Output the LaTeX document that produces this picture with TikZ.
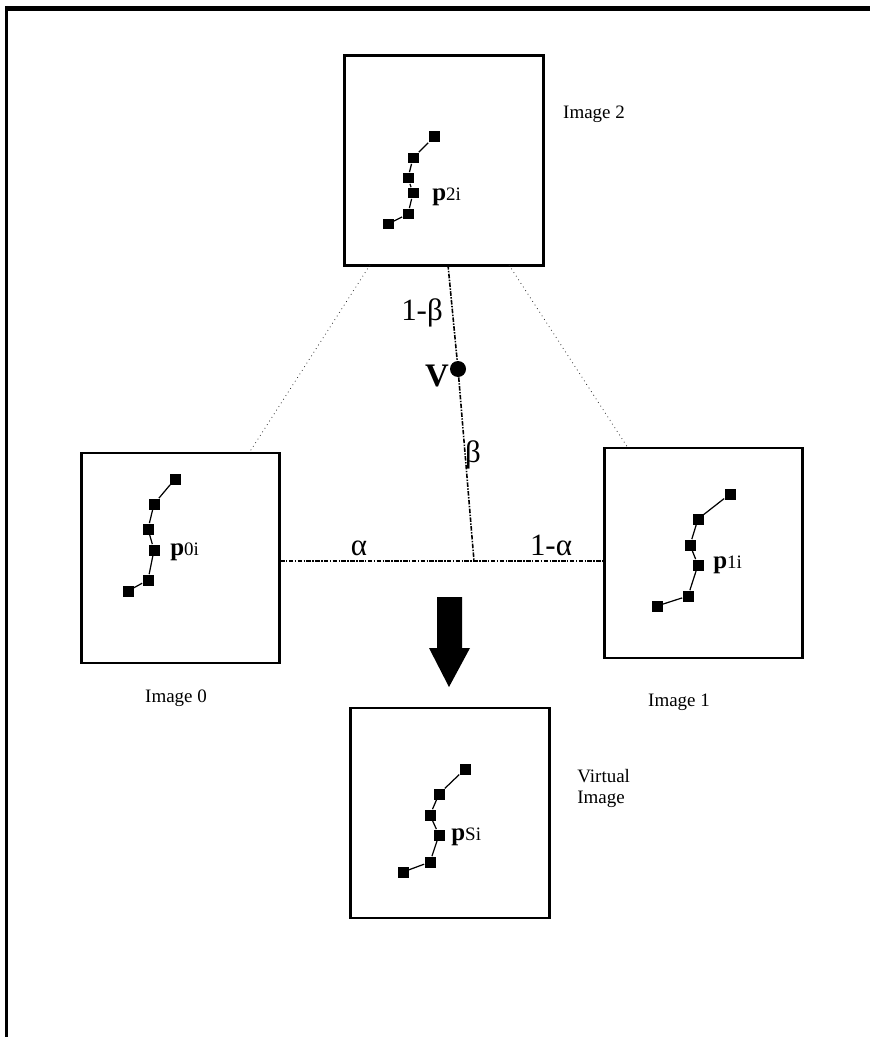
\documentclass[tikz,border=0pt]{standalone}
\usepackage{fontspec}
\setmainfont{Liberation Serif}
\begin{document}
\begin{tikzpicture}[x=0.02cm,y=-0.02cm,
  imgbox/.style={draw,line width=1.5pt,minimum width=3.97cm,minimum height=4.2cm,inner sep=0pt},
  caption/.style={font=\fontsize{10.8}{12.4}\selectfont,inner sep=0pt},
  greek/.style={font=\fontsize{17.6}{20}\selectfont,inner sep=0pt},
  plabel/.style={inner sep=0pt},
  thindots/.style={line width=0.45pt,dotted,black!85},
  dashdot/.style={line width=0.9pt,dash pattern=on 2.6pt off 0.8pt on 0.8pt off 0.8pt},
  curve/.style={line width=0.7pt},
  sq/.style={rectangle,fill=black,minimum size=0.22cm,inner sep=0pt},
  vdot/.style={circle,fill=black,minimum size=0.32cm,inner sep=0pt}
]
\useasboundingbox (0,0) rectangle (870,1037);
% frame
\draw[line width=2.8pt] (5,8.5) -- (870,8.5);
\draw[line width=1.7pt] (6.5,6) -- (6.5,1037);

% image boxes
\node[imgbox] (b2) at (444,160.5) {};
\node[imgbox] (b0) at (180.5,558) {};
\node[imgbox] (b1) at (703.5,553) {};
\node[imgbox] (bS) at (450,813) {};

% connector end points
\coordinate (l2) at (370,265);
\coordinate (l0) at (249,453);
\coordinate (r2) at (509,265);
\coordinate (r1) at (628,448);
\coordinate (c2) at (448,265);
\coordinate (cm) at (474,561);
\coordinate (h0) at (280,561);
\coordinate (h1) at (604,561);
\node[vdot] (v) at (458,369) {};

\draw[thindots] (l2) -- (l0);
\draw[thindots] (r2) -- (r1);
\draw[dashdot] (c2) -- (v);
\draw[dashdot] (v) -- (cm);
\draw[dashdot] (h0) -- (h1);

% labels on connectors
\node[greek,anchor=base] (lb1) at (422,320) {1-β};
\node[greek,anchor=base] (lb) at (473,462) {β};
\node[greek,anchor=base] (la) at (359,555) {α};
\node[greek,anchor=base] (la1) at (551,555) {1-α};
\node[inner sep=0pt,anchor=base,font=\fontsize{18.7}{20}\selectfont\bfseries] (vl) at (437,386) {V};

% polylines of feature points
\foreach \p [count=\i] in {(434,137),(413,158),(408,178),(413,193),(408,214),(388,224)}
  \node[sq] (q2\i) at \p {};
\draw[curve] (q21) -- (q22) -- (q23) -- (q24) -- (q25) -- (q26);
\foreach \p [count=\i] in {(175,479),(154,504),(148,529),(154,550),(148,580),(128,591)}
  \node[sq] (q0\i) at \p {};
\draw[curve] (q01) -- (q02) -- (q03) -- (q04) -- (q05) -- (q06);
\foreach \p [count=\i] in {(730,494),(698,519),(690,545),(698,565),(688,596),(657,606)}
  \node[sq] (q1\i) at \p {};
\draw[curve] (q11) -- (q12) -- (q13) -- (q14) -- (q15) -- (q16);
\foreach \p [count=\i] in {(465,769),(439,794),(430,815),(439,835),(430,862),(403,872)}
  \node[sq] (qS\i) at \p {};
\draw[curve] (qS1) -- (qS2) -- (qS3) -- (qS4) -- (qS5) -- (qS6);

% point labels
\node[plabel,anchor=base west] (p2) at (432,200) {{\fontsize{14.2}{16}\selectfont\bfseries p}{\fontsize{10.8}{12}\selectfont 2i}};
\node[plabel,anchor=base west] (p0) at (170,555) {{\fontsize{14.2}{16}\selectfont\bfseries p}{\fontsize{10.8}{12}\selectfont 0i}};
\node[plabel,anchor=base west] (p1) at (713,568) {{\fontsize{14.2}{16}\selectfont\bfseries p}{\fontsize{10.8}{12}\selectfont 1i}};
\node[plabel,anchor=base west] (pS) at (451,840) {{\fontsize{14.2}{16}\selectfont\bfseries p}{\fontsize{10.8}{12}\selectfont Si}};

% captions
\node[caption,anchor=base] (t2) at (594,119) {Image 2};
\node[caption,anchor=base] (t0) at (176,702) {Image 0};
\node[caption,anchor=base] (t1) at (679,706) {Image 1};
\node[caption,anchor=base west] (tS1) at (577,782) {Virtual};
\node[caption,anchor=base west] (tS2) at (577,803) {Image};

% big arrow
\fill (437,597) -- (462,597) -- (462,648) -- (470,648) -- (449,687) -- (429,648) -- (437,648) -- cycle;
\end{tikzpicture}
\end{document}
